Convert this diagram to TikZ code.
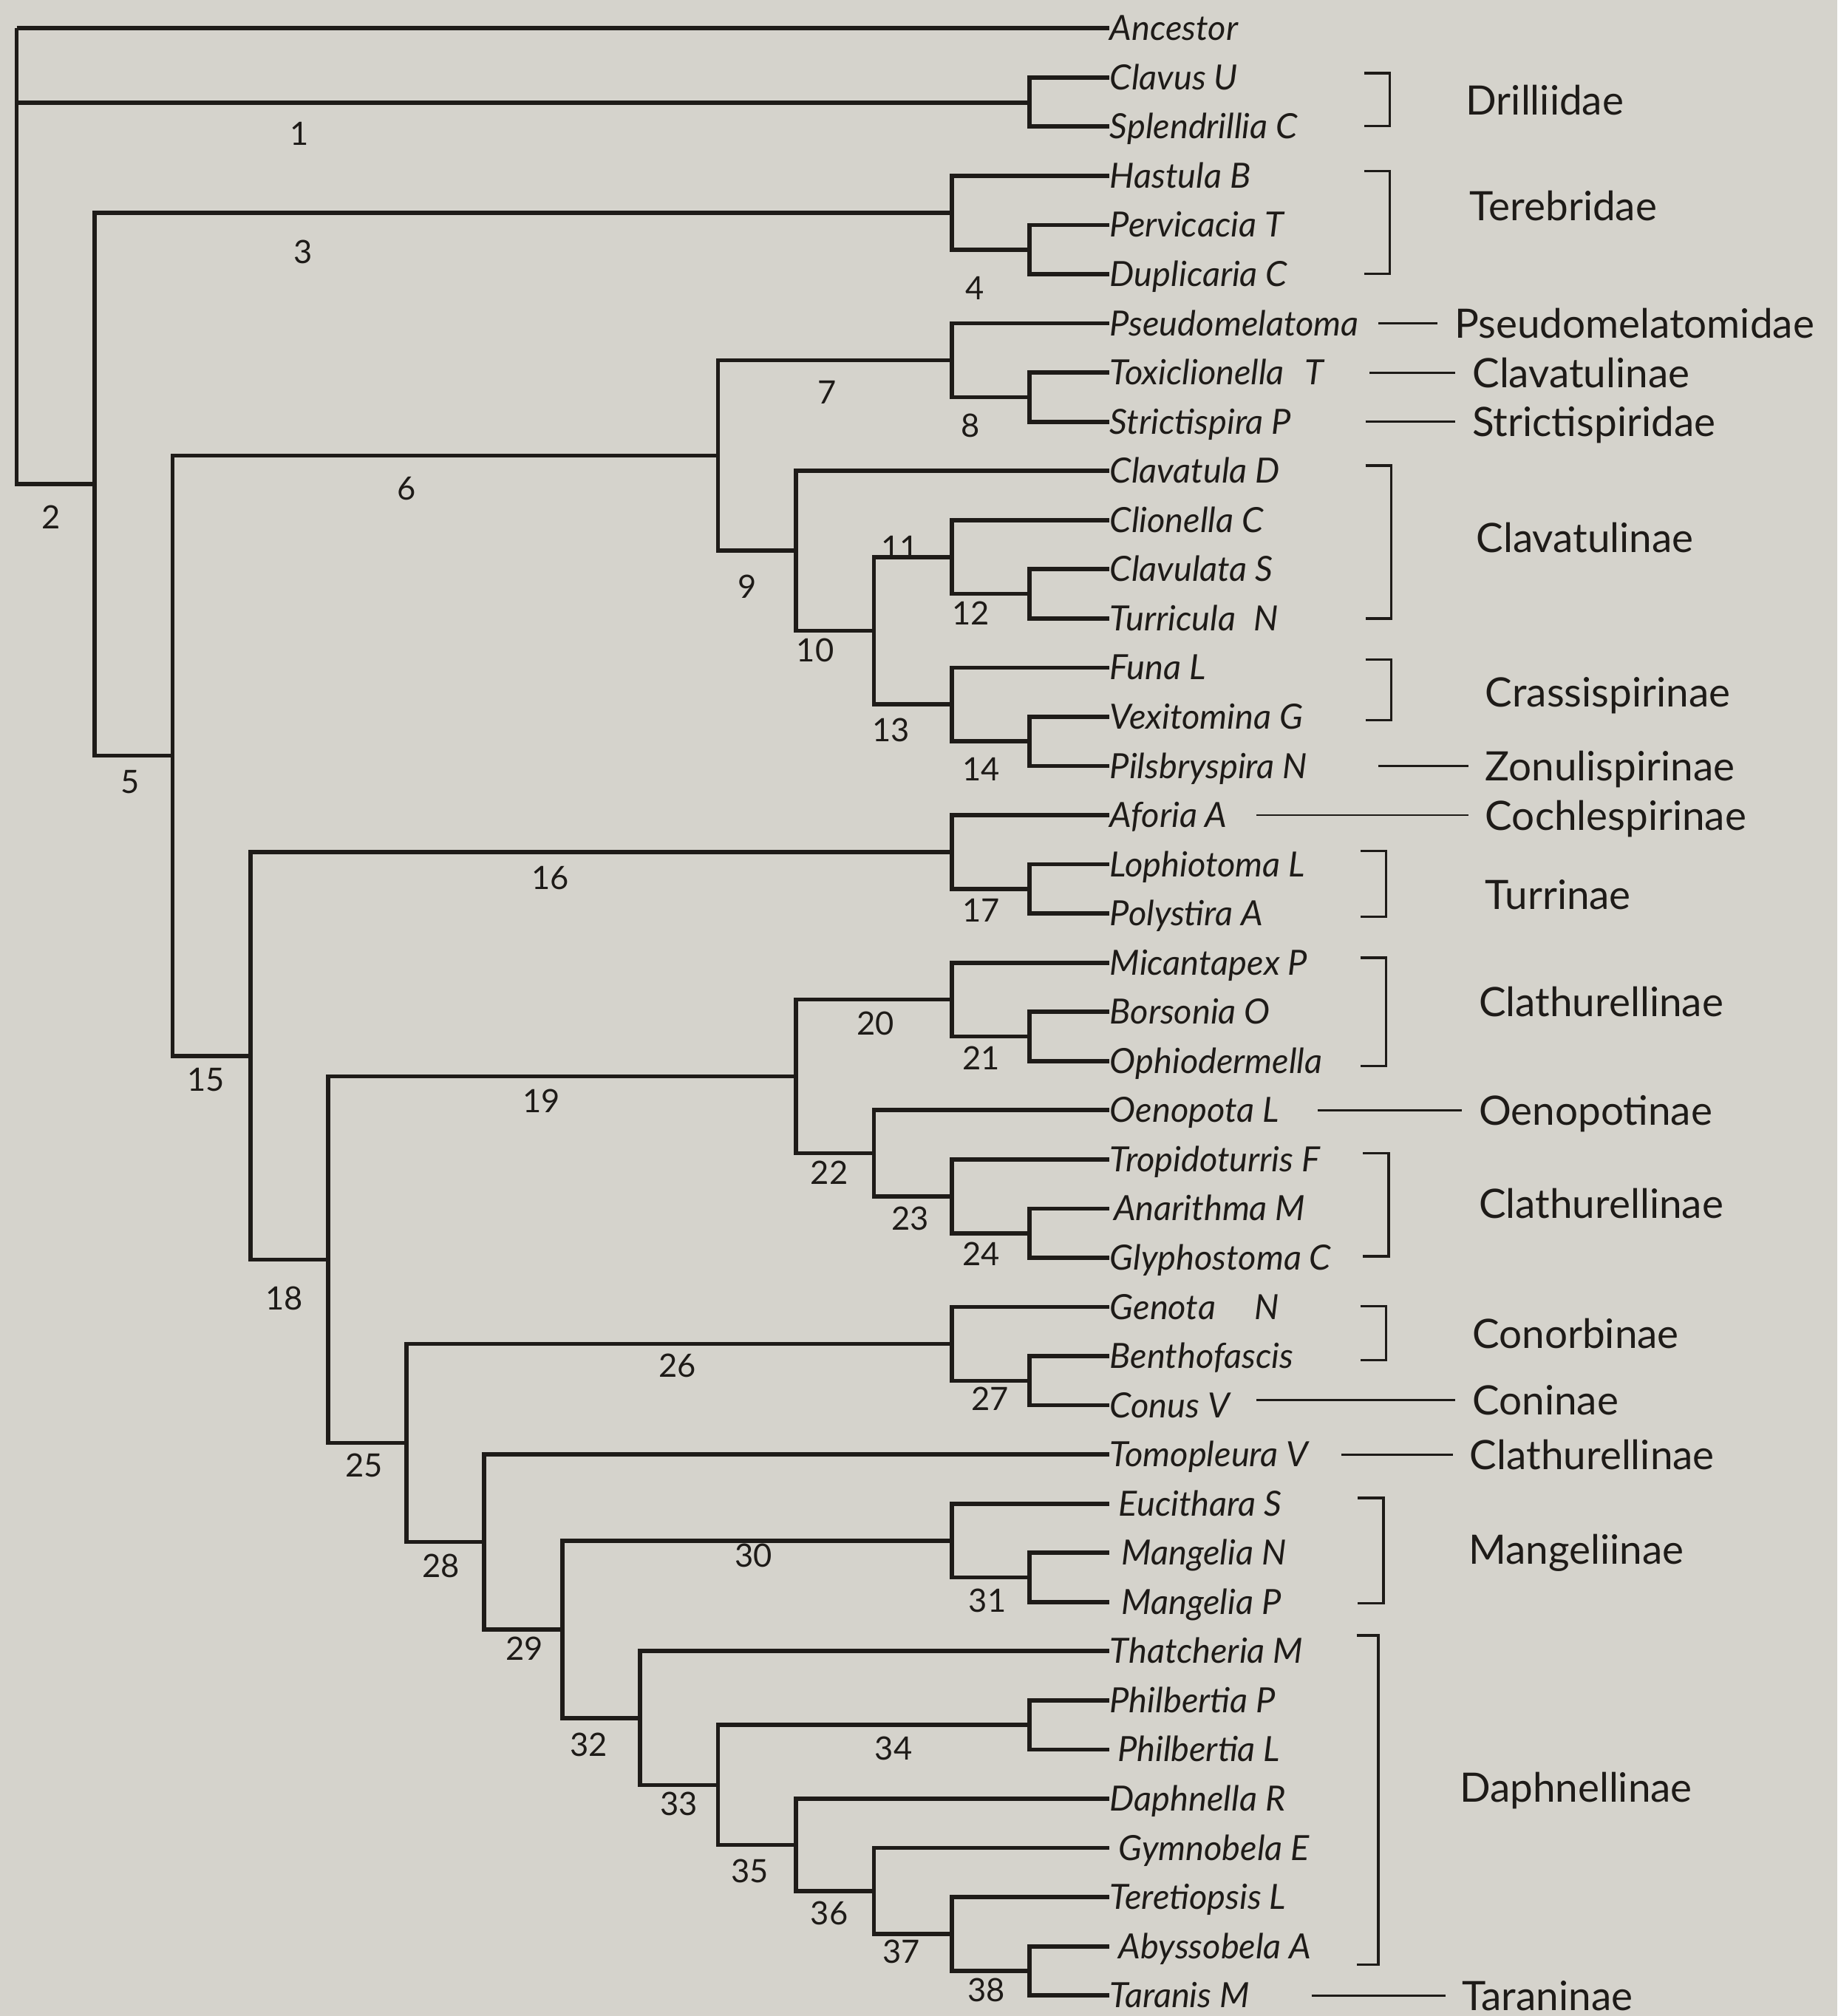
\documentclass[tikz,border=0pt]{standalone}
\usepackage{fontspec}
\setmainfont{Lato}
\newfontfamily\latofam{Lato}
\definecolor{ink}{RGB}{30,27,24}
\definecolor{paper}{RGB}{213,211,204}
\newcommand{\leaffont}{\latofam\itshape\fontsize{27}{30}\selectfont}
\newcommand{\famfont}{\latofam\fontsize{31.5}{35}\selectfont}
\newcommand{\numfont}{\latofam\fontsize{25}{28}\selectfont}
\begin{document}
\begin{tikzpicture}[x=1pt,y=-1pt]
\tikzset{
  tree/.style={draw=ink, line width=3.3pt, line join=miter},
  leaf/.style={anchor=west, inner xsep=0pt, inner ysep=0pt, text height=21pt, text depth=2pt, font=\leaffont, text=ink},
  num/.style={inner sep=0pt, font=\numfont, text=ink},
  fam/.style={anchor=west, inner sep=0pt, text height=23pt, text depth=0pt, font=\famfont, text=ink},
  thinline/.style={draw=ink, line width=1.6pt, shorten >=13pt},
  brk/.style={draw=ink, line width=2pt, line join=miter},
}
\fill[paper] (0,0) rectangle (1429,1568);
\useasboundingbox (0,0) rectangle (1429,1568);

% column x positions
\def\cA{13}\def\cB{73.6}\def\cC{134.2}\def\cD{194.8}\def\cE{255.4}\def\cF{316}
\def\cG{376.6}\def\cH{437.2}\def\cI{497.8}\def\cJ{558.4}\def\cK{619}\def\cL{679.6}
\def\cM{740.2}\def\cN{800.8}\def\tx{863}

% leaves
\node[leaf] (lAnc) at (\tx,22) {Ancestor};
\node[leaf] (lClav) at (\tx,60.25) {Clavus U};
\node[leaf] (lSple) at (\tx,98.5) {Splendrillia C};
\node[leaf] (lHast) at (\tx,136.75) {Hastula B};
\node[leaf] (lPerv) at (\tx,175) {Pervicacia T};
\node[leaf] (lDupl) at (\tx,213.25) {Duplicaria C};
\node[leaf] (lPseu) at (\tx,251.5) {Pseudomelatoma};
\node[leaf] (lToxi) at (\tx,289.75) {Toxiclionella\hspace{16pt}T};
\node[leaf] (lStri) at (\tx,328) {Strictispira P};
\node[leaf] (lClvD) at (\tx,366.25) {Clavatula D};
\node[leaf] (lClio) at (\tx,404.5) {Clionella C};
\node[leaf] (lClvS) at (\tx,442.75) {Clavulata S};
\node[leaf] (lTurr) at (\tx,481) {Turricula\hspace{14pt}N};
\node[leaf] (lFuna) at (\tx,519.25) {Funa L};
\node[leaf] (lVexi) at (\tx,557.5) {Vexitomina G};
\node[leaf] (lPils) at (\tx,595.75) {Pilsbryspira N};
\node[leaf] (lAfor) at (\tx,634) {Aforia A};
\node[leaf] (lLoph) at (\tx,672.25) {Lophiotoma L};
\node[leaf] (lPoly) at (\tx,710.5) {Polystira A};
\node[leaf] (lMica) at (\tx,748.75) {Micantapex P};
\node[leaf] (lBors) at (\tx,787) {Borsonia O};
\node[leaf] (lOphi) at (\tx,825.25) {Ophiodermella};
\node[leaf] (lOeno) at (\tx,863.5) {Oenopota L};
\node[leaf] (lTrop) at (\tx,901.75) {Tropidoturris F};
\node[leaf] (lAnar) at (\tx,940) {\hspace{3pt}Anarithma M};
\node[leaf] (lGlyp) at (\tx,978.25) {Glyphostoma C};
\node[leaf] (lGeno) at (\tx,1016.5) {Genota\hspace{30pt}N};
\node[leaf] (lBent) at (\tx,1054.75) {Benthofascis};
\node[leaf] (lConu) at (\tx,1093) {Conus V};
\node[leaf] (lTomo) at (\tx,1131.25) {Tomopleura V};
\node[leaf] (lEuci) at (\tx,1169.5) {\hspace{7pt}Eucithara S};
\node[leaf] (lManN) at (\tx,1207.75) {\hspace{9pt}Mangelia N};
\node[leaf] (lManP) at (\tx,1246) {\hspace{9pt}Mangelia P};
\node[leaf] (lThat) at (\tx,1284.25) {Thatcheria M};
\node[leaf] (lPhiP) at (\tx,1322.5) {Philbertia P};
\node[leaf] (lPhiL) at (\tx,1360.75) {\hspace{6pt}Philbertia L};
\node[leaf] (lDaph) at (\tx,1399) {Daphnella R};
\node[leaf] (lGymn) at (\tx,1437.25) {\hspace{7pt}Gymnobela E};
\node[leaf] (lTere) at (\tx,1475.5) {Teretiopsis L};
\node[leaf] (lAbys) at (\tx,1513.75) {\hspace{7pt}Abyssobela A};
\node[leaf] (lTara) at (\tx,1552) {Taranis M};

% internal nodes
\coordinate (root) at (\cA,22);
\coordinate (nDril) at (\cN,80);
\coordinate (n2) at (\cB,376.6);
\coordinate (nTer) at (\cM,165.4);
\coordinate (n4) at (\cN,194.1);
\coordinate (n5) at (\cC,587.7);
\coordinate (n6) at (\cJ,354.3);
\coordinate (n7) at (\cM,280.2);
\coordinate (n8) at (\cN,308.9);
\coordinate (n9) at (\cK,428.4);
\coordinate (n10) at (\cL,490.6);
\coordinate (n11) at (\cM,433.2);
\coordinate (n12) at (\cN,461.9);
\coordinate (n13) at (\cM,547.9);
\coordinate (n14) at (\cN,576.6);
\coordinate (n15) at (\cD,821.2);
\coordinate (n16) at (\cM,662.7);
\coordinate (n17) at (\cN,691.4);
\coordinate (n18) at (\cE,979.7);
\coordinate (n19) at (\cK,837.2);
\coordinate (n20) at (\cM,777.4);
\coordinate (n21) at (\cN,806.1);
\coordinate (n22) at (\cL,897);
\coordinate (n23) at (\cM,930.4);
\coordinate (n24) at (\cN,959.1);
\coordinate (n25) at (\cF,1122.2);
\coordinate (n26) at (\cM,1045.2);
\coordinate (n27) at (\cN,1073.9);
\coordinate (n28) at (\cG,1199.2);
\coordinate (n29) at (\cH,1267.2);
\coordinate (n30) at (\cM,1198.2);
\coordinate (n31) at (\cN,1226.9);
\coordinate (n32) at (\cI,1336.3);
\coordinate (n33) at (\cJ,1388.3);
\coordinate (n34) at (\cN,1341.6);
\coordinate (n35) at (\cK,1434.9);
\coordinate (n36) at (\cL,1470.7);
\coordinate (n37) at (\cM,1504.2);
\coordinate (n38) at (\cN,1532.9);

% branches
\draw[tree] (root) |- (lAnc.west);
\draw[tree] (root) |- (nDril);
\draw[tree] (root) |- (n2);
\draw[tree] (nDril) |- (lClav.west);
\draw[tree] (nDril) |- (lSple.west);
\draw[tree] (n2) |- (nTer);
\draw[tree] (n2) |- (n5);
\draw[tree] (nTer) |- (lHast.west);
\draw[tree] (nTer) |- (n4);
\draw[tree] (n4) |- (lPerv.west);
\draw[tree] (n4) |- (lDupl.west);
\draw[tree] (n5) |- (n6);
\draw[tree] (n5) |- (n15);
\draw[tree] (n6) |- (n7);
\draw[tree] (n6) |- (n9);
\draw[tree] (n7) |- (lPseu.west);
\draw[tree] (n7) |- (n8);
\draw[tree] (n8) |- (lToxi.west);
\draw[tree] (n8) |- (lStri.west);
\draw[tree] (n9) |- (lClvD.west);
\draw[tree] (n9) |- (n10);
\draw[tree] (n10) |- (n11);
\draw[tree] (n10) |- (n13);
\draw[tree] (n11) |- (lClio.west);
\draw[tree] (n11) |- (n12);
\draw[tree] (n12) |- (lClvS.west);
\draw[tree] (n12) |- (lTurr.west);
\draw[tree] (n13) |- (lFuna.west);
\draw[tree] (n13) |- (n14);
\draw[tree] (n14) |- (lVexi.west);
\draw[tree] (n14) |- (lPils.west);
\draw[tree] (n15) |- (n16);
\draw[tree] (n15) |- (n18);
\draw[tree] (n16) |- (lAfor.west);
\draw[tree] (n16) |- (n17);
\draw[tree] (n17) |- (lLoph.west);
\draw[tree] (n17) |- (lPoly.west);
\draw[tree] (n18) |- (n19);
\draw[tree] (n18) |- (n25);
\draw[tree] (n19) |- (n20);
\draw[tree] (n19) |- (n22);
\draw[tree] (n20) |- (lMica.west);
\draw[tree] (n20) |- (n21);
\draw[tree] (n21) |- (lBors.west);
\draw[tree] (n21) |- (lOphi.west);
\draw[tree] (n22) |- (lOeno.west);
\draw[tree] (n22) |- (n23);
\draw[tree] (n23) |- (lTrop.west);
\draw[tree] (n23) |- (n24);
\draw[tree] (n24) |- (lAnar.west);
\draw[tree] (n24) |- (lGlyp.west);
\draw[tree] (n25) |- (n26);
\draw[tree] (n25) |- (n28);
\draw[tree] (n26) |- (lGeno.west);
\draw[tree] (n26) |- (n27);
\draw[tree] (n27) |- (lBent.west);
\draw[tree] (n27) |- (lConu.west);
\draw[tree] (n28) |- (lTomo.west);
\draw[tree] (n28) |- (n29);
\draw[tree] (n29) |- (n30);
\draw[tree] (n29) |- (n32);
\draw[tree] (n30) |- (lEuci.west);
\draw[tree] (n30) |- (n31);
\draw[tree] (n31) |- (lManN.west);
\draw[tree] (n31) |- (lManP.west);
\draw[tree] (n32) |- (lThat.west);
\draw[tree] (n32) |- (n33);
\draw[tree] (n33) |- (n34);
\draw[tree] (n33) |- (n35);
\draw[tree] (n34) |- (lPhiP.west);
\draw[tree] (n34) |- (lPhiL.west);
\draw[tree] (n35) |- (lDaph.west);
\draw[tree] (n35) |- (n36);
\draw[tree] (n36) |- (lGymn.west);
\draw[tree] (n36) |- (n37);
\draw[tree] (n37) |- (lTere.west);
\draw[tree] (n37) |- (n38);
\draw[tree] (n38) |- (lAbys.west);
\draw[tree] (n38) |- (lTara.west);

% branch numbers
\node[num] (b1) at (233,104) {1};
\node[num] (b2) at (40,402) {2};
\node[num] (b3) at (236,196) {3};
\node[num] (b4) at (758,224) {4};
\node[num] (b5) at (101,608) {5};
\node[num] (b6) at (316,380) {6};
\node[num] (b7) at (643,305) {7};
\node[num] (b8) at (755,331) {8};
\node[num] (b9) at (581,456) {9};
\node[num] (b10) at (634,506) {10};
\node[num, anchor=base] (b11) at (700,435) {11};
\node[num] (b12) at (755,477) {12};
\node[num] (b13) at (693,568) {13};
\node[num] (b14) at (763,598) {14};
\node[num] (b15) at (160,840) {15};
\node[num] (b16) at (428,683) {16};
\node[num] (b17) at (763,708) {17};
\node[num] (b18) at (221,1010) {18};
\node[num] (b19) at (421,856) {19};
\node[num] (b20) at (681,796) {20};
\node[num] (b21) at (763,823) {21};
\node[num] (b22) at (645,912) {22};
\node[num] (b23) at (708,948) {23};
\node[num] (b24) at (763,975) {24};
\node[num] (b25) at (283,1140) {25};
\node[num] (b26) at (527,1062) {26};
\node[num] (b27) at (770,1088) {27};
\node[num] (b28) at (343,1218) {28};
\node[num] (b29) at (408,1282) {29};
\node[num] (b30) at (586,1210) {30};
\node[num] (b31) at (768,1245) {31};
\node[num] (b32) at (458,1357) {32};
\node[num] (b33) at (528,1403) {33};
\node[num] (b34) at (695,1360) {34};
\node[num] (b35) at (583,1455) {35};
\node[num] (b36) at (645,1488) {36};
\node[num] (b37) at (701,1518) {37};
\node[num] (b38) at (767,1548) {38};

% family names
\node[fam] (fDri) at (1140,78) {Drilliidae};
\node[fam] (fTer) at (1143,160) {Terebridae};
\node[fam] (fPse) at (1131,251.5) {Pseudomelatomidae};
\node[fam] (fCla1) at (1145,289.75) {Clavatulinae};
\node[fam] (fStr) at (1145,328) {Strictispiridae};
\node[fam] (fCla2) at (1148,418) {Clavatulinae};
\node[fam] (fCra) at (1155,538) {Crassispirinae};
\node[fam] (fZon) at (1155,595.75) {Zonulispirinae};
\node[fam] (fCoc) at (1155,634) {Cochlespirinae};
\node[fam] (fTur) at (1155,696) {Turrinae};
\node[fam] (fCth1) at (1150,779) {Clathurellinae};
\node[fam] (fOen) at (1150,863.5) {Oenopotinae};
\node[fam] (fCth2) at (1150,936) {Clathurellinae};
\node[fam] (fCon) at (1145,1037) {Conorbinae};
\node[fam] (fCni) at (1145,1089) {Coninae};
\node[fam] (fCth3) at (1143,1131.25) {Clathurellinae};
\node[fam] (fMan) at (1142,1205) {Mangeliinae};
\node[fam] (fDap) at (1135,1390) {Daphnellinae};
\node[fam] (fTar) at (1137,1552) {Taraninae};

% single-genus connectors
\coordinate (pPse) at (1072,251.5);
\coordinate (pCla1) at (1065,289.75);
\coordinate (pStr) at (1062,328);
\coordinate (pZon) at (1072,595.75);
\coordinate (pCoc) at (977,634);
\coordinate (pOen) at (1025,863.5);
\coordinate (pCni) at (977,1089);
\coordinate (pCth3) at (1043,1131.25);
\coordinate (pTar) at (1020,1552);
\draw[thinline] (pPse) -- (fPse.west);
\draw[thinline] (pCla1) -- (fCla1.west);
\draw[thinline] (pStr) -- (fStr.west);
\draw[thinline] (pZon) -- (fZon.west);
\draw[thinline] (pCoc) -- (fCoc.west);
\draw[thinline] (pOen) -- (fOen.west);
\draw[thinline] (pCni) -- (fCni.west);
\draw[thinline] (pCth3) -- (fCth3.west);
\draw[thinline] (pTar) -- (fTar.west);

% brackets
\coordinate (kDri) at (1061,57);
\coordinate (kTer) at (1061,133);
\coordinate (kCla) at (1062,362);
\coordinate (kCra) at (1062,513);
\coordinate (kTur) at (1058,662);
\coordinate (kCth1) at (1058,745);
\coordinate (kCth2) at (1060,897);
\coordinate (kCon) at (1058,1016);
\coordinate (kMan) at (1056,1165);
\coordinate (kDap) at (1055,1272);
\draw[brk] (kDri) -- ++(20,0) -- ++(0,41) -- ++(-20,0);
\draw[brk] (kTer) -- ++(20,0) -- ++(0,80) -- ++(-20,0);
\draw[brk] (kCla) -- ++(20,0) -- ++(0,119) -- ++(-20,0);
\draw[brk] (kCra) -- ++(20,0) -- ++(0,47) -- ++(-20,0);
\draw[brk] (kTur) -- ++(20,0) -- ++(0,51) -- ++(-20,0);
\draw[brk] (kCth1) -- ++(20,0) -- ++(0,84) -- ++(-20,0);
\draw[brk] (kCth2) -- ++(20,0) -- ++(0,80) -- ++(-20,0);
\draw[brk] (kCon) -- ++(20,0) -- ++(0,42) -- ++(-20,0);
\draw[brk] (kMan) -- ++(20,0) -- ++(0,82) -- ++(-20,0);
\draw[brk] (kDap) -- ++(17,0) -- ++(0,256) -- ++(-17,0);
\end{tikzpicture}
\end{document}
